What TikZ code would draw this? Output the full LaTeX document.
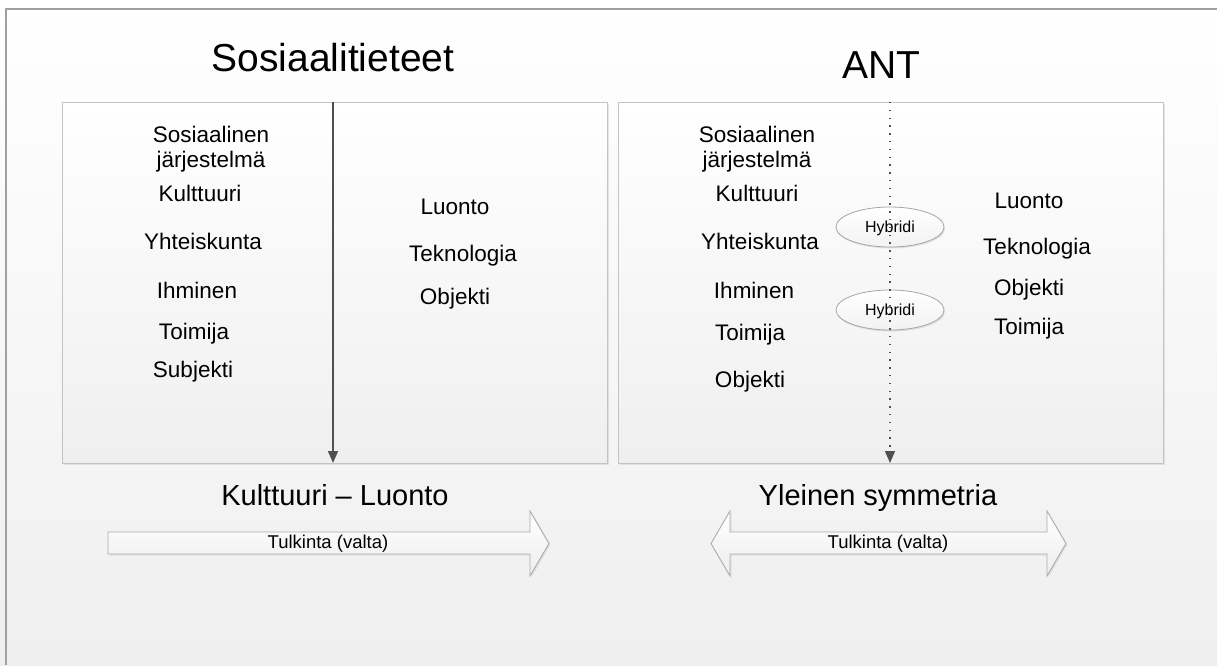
\documentclass[tikz,border=0pt]{standalone}
\usepackage{fontspec}
\setmainfont{Liberation Sans}
\usetikzlibrary{arrows.meta,shapes.geometric,shadows}

\definecolor{framegray}{HTML}{A0A0A0}
\definecolor{boxline}{HTML}{C4C4C4}
\definecolor{arrowgray}{HTML}{505050}
\definecolor{bgbottom}{HTML}{EFEFEF}
\definecolor{blockline}{HTML}{ABABAB}

\begin{document}
\begin{tikzpicture}[x=1pt,y=-1pt,
  panel/.style={draw=boxline, line width=1.2pt, top color=white, bottom color=bgbottom,
    minimum width=545pt, minimum height=361pt, anchor=north west, inner sep=0pt,
    drop shadow={shadow xshift=1.5pt, shadow yshift=-1.5pt, opacity=.18}},
  heading/.style={font=\fontsize{39}{44}\selectfont, inner sep=0pt, anchor=base},
  sublabel/.style={font=\fontsize{29}{33}\selectfont, inner sep=0pt, anchor=base},
  item/.style={font=\fontsize{22.5}{25}\selectfont, inner sep=0pt, anchor=base},
  itemblock/.style={font=\fontsize{22.5}{25}\selectfont, inner sep=0pt, anchor=north, align=center},
  hybrid/.style={ellipse, draw=black!35, line width=0.8pt, top color=white, bottom color=black!5,
    minimum width=108pt, minimum height=40pt, inner sep=0pt, text depth=0pt,
    font=\fontsize{16}{18}\selectfont,
    drop shadow={shadow xshift=1pt, shadow yshift=-1.5pt, opacity=.2}},
  blockarrow/.style={draw=blockline, line width=0.9pt, top color=white, bottom color=black!7,
    drop shadow={shadow xshift=1.5pt, shadow yshift=-1.5pt, opacity=.15}},
  blocktext/.style={font=\fontsize{18.5}{21}\selectfont, inner sep=0pt, anchor=base},
  divider/.style={draw=arrowgray, line width=1.5pt, -{Triangle[width=10pt,length=12pt]}},
  dotdivider/.style={draw=arrowgray, line width=1.3pt, dash pattern=on 1.3pt off 6.5pt,
    -{Triangle[width=10pt,length=12pt]}},
]
% page background and frame
\useasboundingbox (0,0) rectangle (1217,665);
\shade[top color=white, bottom color=bgbottom] (0,0) rectangle (1217,665);
\draw[framegray, line width=1.5pt] (6,665) -- (6,9) -- (1217,9);

% headings
\node[heading] (tsos) at (333,71) {Sosiaalitieteet};
\node[heading] (tant) at (881,78) {ANT};

% panels
\node[panel] (lbox) at (62,102) {};
\node[panel] (rbox) at (618,102) {};

% left panel contents
\node[itemblock] (l1) at (211,125.5) {Sosiaalinen\\järjestelmä};
\node[item] (l2) at (200,201) {Kulttuuri};
\node[item] (l3) at (203,249) {Yhteiskunta};
\node[item] (l4) at (197,298) {Ihminen};
\node[item] (l5) at (194,339) {Toimija};
\node[item] (l6) at (193,377) {Subjekti};
\node[item] (l7) at (455,214) {Luonto};
\node[item] (l8) at (463,261) {Teknologia};
\node[item] (l9) at (455,304) {Objekti};
\coordinate (ltop) at (333,102);
\coordinate (lbot) at (333,463);
\draw[divider] (ltop) -- (lbot);

% right panel contents
\node[itemblock] (r1) at (757,125.5) {Sosiaalinen\\järjestelmä};
\node[item] (r2) at (757,201) {Kulttuuri};
\node[item] (r3) at (760,249) {Yhteiskunta};
\node[item] (r4) at (754,298) {Ihminen};
\node[item] (r5) at (750,340) {Toimija};
\node[item] (r6) at (750,387) {Objekti};
\node[item] (r7) at (1029,208) {Luonto};
\node[item] (r8) at (1037,254) {Teknologia};
\node[item] (r9) at (1029,295) {Objekti};
\node[item] (r10) at (1029,334) {Toimija};
\node[hybrid] (h1) at (890,227) {Hybridi};
\node[hybrid] (h2) at (890,310) {Hybridi};
\coordinate (rtop) at (890,102);
\coordinate (rbot) at (890,463);
\draw[dotdivider] (rtop) -- (rbot);

% captions under the panels
\node[sublabel] (kl) at (335,505) {Kulttuuri – Luonto};
\node[sublabel] (ys) at (878,505) {Yleinen symmetria};

% one-way block arrow
\path[blockarrow] (108,532) -- (530,532) -- (530,511) -- (549,543.5) -- (530,576)
  -- (530,554) -- (108,554) -- cycle;
\node[blocktext] (t1) at (328,548) {Tulkinta (valta)};

% two-way block arrow
\path[blockarrow] (730,532) -- (1047,532) -- (1047,511) -- (1066,543.5) -- (1047,576)
  -- (1047,554) -- (730,554) -- (730,576) -- (711,543.5) -- (730,511) -- cycle;
\node[blocktext] (t2) at (888,548) {Tulkinta (valta)};
\end{tikzpicture}
\end{document}
